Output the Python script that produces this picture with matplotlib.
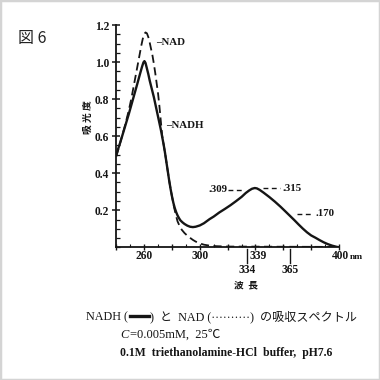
import matplotlib
matplotlib.use("Agg")
import matplotlib.pyplot as plt
from matplotlib.patches import Rectangle
from matplotlib.lines import Line2D
from matplotlib.ticker import MultipleLocator

# ---- data ----
nadh_nm = [240, 243, 246, 249, 252, 255, 257, 258.5, 259.5, 260.2, 261, 262, 263, 264, 265,
           266, 267, 268, 269, 270, 271, 272, 273, 274, 275, 276, 277, 278, 279, 280,
           281, 282, 283, 284, 285, 286, 287.5, 289, 291, 293, 295, 297, 300, 303, 307,
           310, 314, 318, 322, 326, 330, 333, 335.5, 337.5, 339.5, 341, 343, 346, 350,
           354, 358, 362, 365, 368, 371, 374, 377, 380, 383, 386, 389, 392, 395, 398, 400]
nadh_abs = [0.50, 0.57, 0.645, 0.72, 0.80, 0.88, 0.935, 0.975, 0.998, 1.005, 0.995, 0.965, 0.935, 0.90, 0.87,
            0.84, 0.81, 0.775, 0.74, 0.705, 0.67, 0.635, 0.595, 0.555, 0.51, 0.46, 0.41, 0.36, 0.315, 0.275,
            0.24, 0.212, 0.19, 0.172, 0.158, 0.146, 0.135, 0.126, 0.117, 0.111, 0.109, 0.111, 0.118, 0.13, 0.152,
            0.166, 0.188, 0.207, 0.227, 0.249, 0.272, 0.293, 0.307, 0.316, 0.32, 0.318, 0.31, 0.294, 0.271,
            0.246, 0.219, 0.19, 0.168, 0.146, 0.123, 0.101, 0.081, 0.064, 0.052, 0.039, 0.027, 0.017, 0.009, 0.003, 0.0]

nad_nm = [240, 243, 246, 249, 251, 253, 255, 256.5, 258, 259, 260, 261, 262, 263, 264,
          265, 266, 267, 268, 269, 270, 271, 272, 273, 274, 275, 276, 277, 278, 279, 280,
          281, 282, 283, 284, 285.5, 287, 289, 291, 293, 295, 297, 300, 303, 307, 312, 320, 360, 400]
nad_abs = [0.49, 0.57, 0.65, 0.74, 0.81, 0.89, 0.97, 1.03, 1.09, 1.125, 1.15, 1.16, 1.155, 1.135, 1.105,
           1.07, 1.035, 0.99, 0.94, 0.885, 0.83, 0.76, 0.68, 0.60, 0.555, 0.51, 0.46, 0.41, 0.36, 0.315, 0.275,
           0.235, 0.20, 0.168, 0.14, 0.115, 0.095, 0.077, 0.063, 0.051, 0.04, 0.031, 0.021, 0.014, 0.009, 0.006, 0.004, 0.003, 0.002]

y_ticks = [0.2, 0.4, 0.6, 0.8, 1.0, 1.2]
y_tick_labels = ["0.2", "0.4", "0.6", "0.8", "1.0", "1.2"]
x_tick_labels = {260: "260", 300: "300"}
marks = {"334": 334, "339": 339, "365": 365}
peak_notes = [(".309", 334), (".315", 339), (".170", 365)]

ink = "#151515"
serif = ["Liberation Serif", "Noto Sans CJK JP"]
cjk = ["Noto Sans CJK JP", "DejaVu Sans"]
TICK_FS = 8.3

fig = plt.figure(figsize=(3.8, 3.8), dpi=100)
fig.patch.set_facecolor("white")
fig.patches.append(Rectangle((0, 0), 1, 1, transform=fig.transFigure, fill=False,
                             edgecolor="#d4d4d4", lw=2.5))

ax = fig.add_axes([116.3 / 380, 1 - 247.3 / 380, (339 - 116.3) / 380, (247.3 - 25) / 380])
ax.plot(nadh_nm, nadh_abs, color=ink, lw=1.7, solid_joinstyle="round")
ax.plot(nad_nm, nad_abs, color=ink, lw=1.3, dashes=(4.5, 2.5))
ax.set_xlim(240, 400)
ax.set_ylim(0, 1.2)
for s in ("top", "right"):
    ax.spines[s].set_visible(False)
for s in ("left", "bottom"):
    ax.spines[s].set_color(ink)
    ax.spines[s].set_linewidth(1.3)

ax.set_yticks(y_ticks)
ax.set_yticklabels(y_tick_labels, fontfamily=serif, fontweight="bold", fontsize=TICK_FS, color=ink)
ax.yaxis.set_minor_locator(MultipleLocator(0.05))
ax.tick_params(axis="y", which="major", direction="inout", length=6, width=1.1, pad=2, colors=ink)
ax.tick_params(axis="y", which="minor", direction="in", length=3, width=0.9, colors=ink)

ax.xaxis.set_major_locator(MultipleLocator(20))
ax.xaxis.set_minor_locator(MultipleLocator(10))
ax.set_xticklabels([])
ax.tick_params(axis="x", which="major", direction="inout", length=5, width=1.0, colors=ink)
ax.tick_params(axis="x", which="minor", direction="in", length=2.5, width=0.8, colors=ink)

xt = ax.get_xaxis_transform()
for v, lab in x_tick_labels.items():
    ax.text(v, -0.04, lab, transform=xt, ha="center", va="center", fontfamily=serif,
            fontweight="bold", fontsize=TICK_FS, color=ink)
ax.text(395.0, -0.04, "400", transform=xt, ha="left", va="center", fontfamily=serif,
        fontweight="bold", fontsize=TICK_FS, color=ink)
ax.text(408.0, -0.045, "nm", transform=xt, ha="left", va="center", fontfamily=serif,
        fontweight="bold", fontsize=6.8, color=ink)

# wavelength markers below the axis
for key in ("334", "365"):
    v = marks[key]
    ax.plot([v, v], [-0.008, -0.072], transform=xt, color=ink, lw=1.0, clip_on=False)
    ax.text(v, -0.1, key, transform=xt, ha="center", va="center", fontfamily=serif,
            fontweight="bold", fontsize=TICK_FS, color=ink)
ax.text(marks["334"] + 1.6, -0.04, "339", transform=xt, ha="left", va="center", fontfamily=serif,
        fontweight="bold", fontsize=TICK_FS, color=ink)

# peak value notes with dashed leaders
note_fmt = dict(fontfamily=serif, fontweight="bold", fontsize=7.8, color=ink, va="center")
ax.text(319.8, 0.311, peak_notes[0][0], ha="right", **note_fmt)
ax.plot([320.6, 331.5], [0.311, 0.311], color=ink, lw=1.0, dashes=(3.5, 2.5))
ax.plot([345.3, 357.8], [0.319, 0.319], color=ink, lw=1.0, dashes=(3.5, 2.5))
ax.text(359.2, 0.319, peak_notes[1][0], ha="left", **note_fmt)
ax.plot([369.7, 381.5], [0.18, 0.18], color=ink, lw=1.0, dashes=(3.5, 2.5))
ax.text(383.0, 0.18, peak_notes[2][0], ha="left", **note_fmt)

# curve labels
ax.text(268.3, 1.108, "\u2013NAD", ha="left", va="center", fontfamily=serif,
        fontweight="bold", fontsize=7.8, color=ink)
ax.text(275.6, 0.655, "\u2013NADH", ha="left", va="center", fontfamily=serif,
        fontweight="bold", fontsize=7.8, color=ink)

# axis titles
fig.text(88 / 380, 1 - 117 / 380, "吸 光 度", rotation=90, ha="center", va="center",
         fontfamily=cjk, fontweight="bold", fontsize=7, color=ink)
fig.text(246 / 380, 1 - 285 / 380, "波  長", ha="center", va="center",
         fontfamily=cjk, fontweight="bold", fontsize=7, color=ink)

# figure number
fig.text(18 / 380, 1 - 38 / 380, "図 6", ha="left", va="center", fontfamily=cjk,
         fontsize=11.5, color="#222222")

# caption
cap_y = 1 - 317 / 380
fig.text(86 / 380, cap_y, "NADH (", ha="left", va="center", fontfamily=serif,
         fontsize=8.7, color=ink)
fig.add_artist(Line2D([130 / 380, 149 / 380], [cap_y + 0.002, cap_y + 0.002],
                      transform=fig.transFigure, color=ink, lw=2.4))
fig.text(150.5 / 380, cap_y, ")  と  NAD (··········)  の吸収スペクトル", ha="left", va="center",
         fontfamily=serif, fontsize=8.7, color=ink)
fig.text(120 / 380, 1 - 335 / 380, "C", ha="left", va="center", fontfamily="Liberation Serif",
         style="italic", fontsize=9, color=ink)
fig.text(130 / 380, 1 - 335 / 380, "=0.005mM,  25℃", ha="left", va="center",
         fontfamily=serif, fontsize=9, color=ink)
fig.text(120 / 380, 1 - 353 / 380, "0.1M  triethanolamine-HCl  buffer,  pH7.6", ha="left",
         va="center", fontfamily=serif, fontweight="bold", fontsize=8.5, color=ink)

fig.savefig("out.png", dpi=100, facecolor="white")
